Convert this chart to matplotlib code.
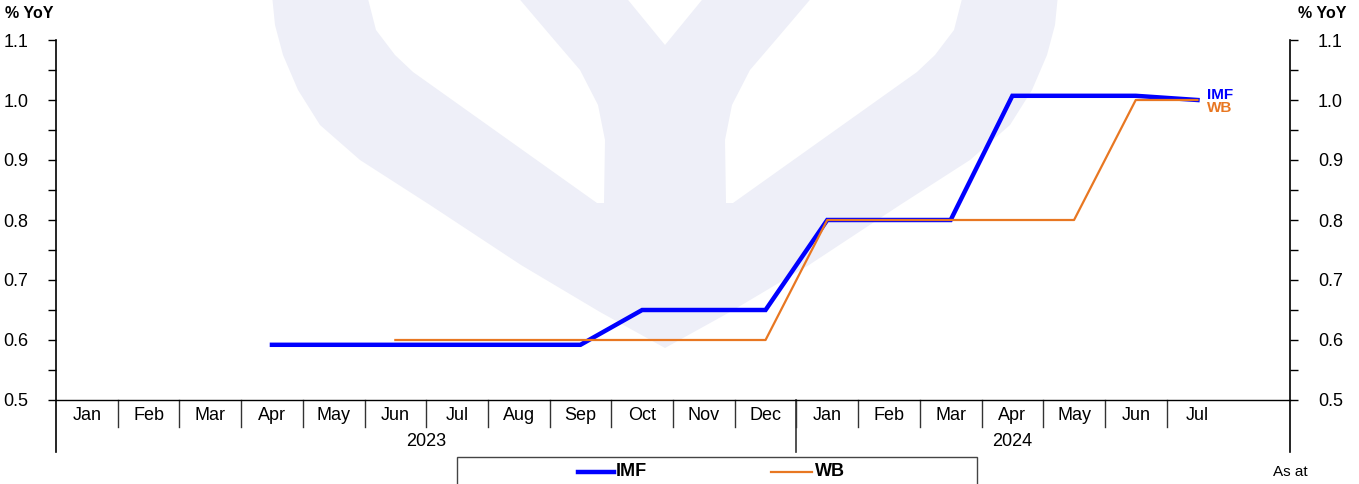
import numpy as np
import matplotlib
matplotlib.use('Agg')
import matplotlib.pyplot as plt
from matplotlib.patches import Polygon, Rectangle
from matplotlib.lines import Line2D

plt.rcParams['font.family'] = ['Liberation Sans', 'DejaVu Sans']

# data
months = ['Jan', 'Feb', 'Mar', 'Apr', 'May', 'Jun', 'Jul', 'Aug', 'Sep', 'Oct', 'Nov', 'Dec',
          'Jan', 'Feb', 'Mar', 'Apr', 'May', 'Jun', 'Jul', '']
years = ['2023', '2024']
year_len = [12, 7]
nan = np.nan
imf = [nan, nan, nan, 0.592, 0.592, 0.592, 0.592, 0.592, 0.592, 0.65, 0.65, 0.65,
       0.80, 0.80, 0.80, 1.007, 1.007, 1.007, 1.00, nan]
wb = [nan, nan, nan, nan, nan, 0.60, 0.60, 0.60, 0.60, 0.60, 0.60, 0.60,
      0.80, 0.80, 0.80, 0.80, 0.80, 1.00, 1.00, nan]

W, H = 1359, 484
fig = plt.figure(figsize=(W / 100, H / 100), dpi=100)

# watermark (heart with Y) in pixel coords
bg = fig.add_axes([0, 0, 1, 1], zorder=0)
bg.set_xlim(0, W)
bg.set_ylim(H, 0)
bg.axis('off')
lav = '#eeeff8'
outer = [(272, -5), (275, 25), (283, 55), (298, 90), (320, 125), (360, 160), (430, 205),
         (521, 265), (600, 312), (665, 348)]
outer = outer + [(1330 - x, y) for x, y in reversed(outer[:-1])]
bg.add_patch(Polygon(outer, closed=True, fc=lav, ec='none'))
hole = [(367, -5), (376, 30), (395, 55), (413, 72), (597, 203), (604, 203), (605, 140),
        (598, 105), (580, 70), (550, 35), (516, -5)]
bg.add_patch(Polygon(hole, closed=True, fc='white', ec='none'))
bg.add_patch(Polygon([(1330 - x, y) for x, y in hole], closed=True, fc='white', ec='none'))
bg.add_patch(Polygon([(624, -5), (665, 45), (706, -5)], closed=True, fc='white', ec='none'))

# main axes
x0, x1 = 56, 1290
ytop, ybot = 40, 400
ax = fig.add_axes([x0 / W, 1 - ybot / H, (x1 - x0) / W, (ybot - ytop) / H], zorder=1)
ax.patch.set_alpha(0)
n = len(months)
x = np.arange(n)
ax.plot(x, imf, color='#0000ff', lw=3.2, solid_joinstyle='miter', zorder=3)
ax.plot(x, wb, color='#e87722', lw=1.6, zorder=4)
ax.set_xlim(-0.5, n - 0.5)
ax.set_ylim(0.5, 1.1)

for s in ['top', 'left', 'right']:
    ax.spines[s].set_visible(False)
ax.spines['bottom'].set_linewidth(1.0)

ax.set_xticks([])
yt = np.arange(0.5, 1.11, 0.1)
ax.set_yticks(yt)
ax.set_yticks(np.arange(0.55, 1.1, 0.1), minor=True)
ax.set_yticklabels(['%.1f' % v for v in yt])
ax.tick_params(axis='y', which='both', direction='out', length=6, width=1,
               labelsize=13, pad=14, left=True, right=True, labelright=True)

ph = ybot - ytop
ext = -(452 - ybot) / ph
# axis lines extended below
for xx in [0, 1]:
    ax.add_line(Line2D([xx, xx], [ext, 1], transform=ax.transAxes, color='black', lw=1.2,
                       clip_on=False))

# month dividers and labels
tr = ax.get_xaxis_transform()
div_low = -(427 - ybot) / ph
for i in range(1, n - 1):
    ax.add_line(Line2D([i - 0.5, i - 0.5], [0, div_low], transform=tr, color='#333333',
                       lw=1.0, clip_on=False))
for i, m in enumerate(months):
    ax.text(i, -(416 - ybot) / ph, m, transform=tr, ha='center', va='center', fontsize=13)

start = 0
for yr, ln in zip(years, year_len):
    ax.text(start + ln / 2 - 0.5, -(441 - ybot) / ph, yr, transform=tr, ha='center',
            va='center', fontsize=13)
    start += ln
ax.add_line(Line2D([11.5, 11.5], [0, ext], transform=tr, color='#333333', lw=1.2,
                   clip_on=False))

# end labels
ax.text(18.15, 1.008, 'IMF', color='#0000ff', fontsize=11, fontweight='bold', va='center')
ax.text(18.15, 0.986, 'WB', color='#e87722', fontsize=11, fontweight='bold', va='center')

# units
fig.text(5 / W, 1 - 13 / H, '% YoY', fontsize=11.5, fontweight='bold', va='center')
fig.text(1346 / W, 1 - 13 / H, '% YoY', fontsize=11.5, fontweight='bold', va='center', ha='right')

# legend box
fig.patches.append(Rectangle((457 / W, -0.05), 520 / W, (484 - 457) / H + 0.05,
                             transform=fig.transFigure, fc='white', ec='#444444', lw=1.0,
                             zorder=2))
ly = 1 - 472 / H
fig.lines.append(Line2D([578 / W, 614 / W], [ly, ly], transform=fig.transFigure,
                        color='#0000ff', lw=3.2, zorder=3))
fig.text(616 / W, ly, 'IMF', fontsize=13, fontweight='bold', va='center', zorder=3)
fig.lines.append(Line2D([771 / W, 812 / W], [ly, ly], transform=fig.transFigure,
                        color='#e87722', lw=1.6, zorder=3))
fig.text(815 / W, ly, 'WB', fontsize=13, fontweight='bold', va='center', zorder=3)

fig.text(1290 / W, ly, 'As at', fontsize=11, ha='center', va='center')

fig.savefig('out.png', dpi=100)
